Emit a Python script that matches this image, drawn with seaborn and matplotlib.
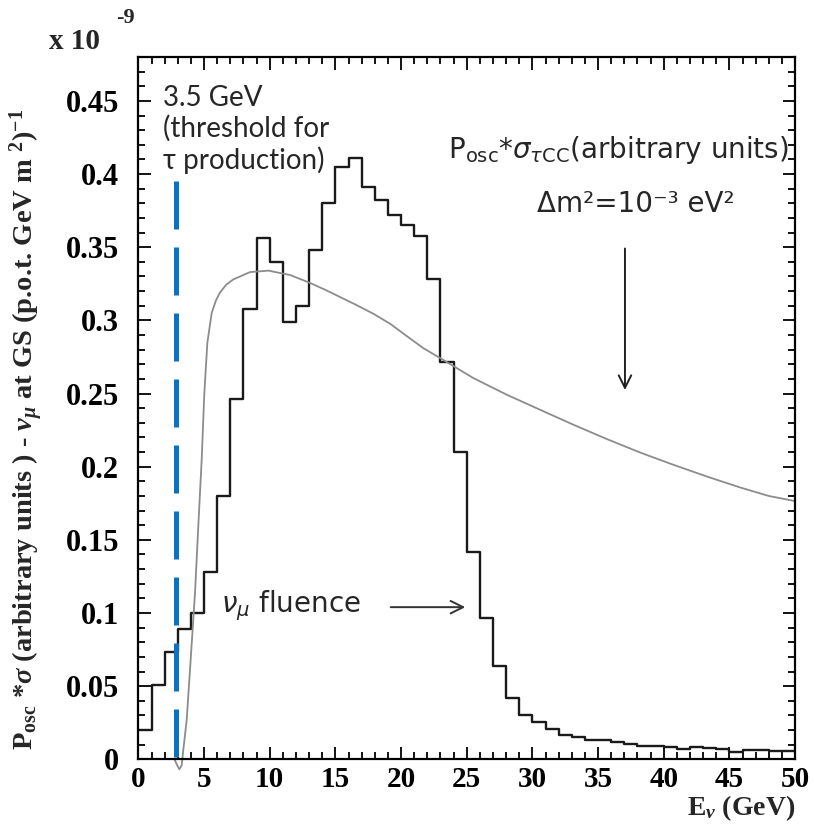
import numpy as np
import pandas as pd
import seaborn as sns
import matplotlib.pyplot as plt
from matplotlib.ticker import MultipleLocator, FixedLocator, FixedFormatter

# ---------------- data ----------------
energy_bin_edges = list(range(0, 51))
numu_fluence = [0.020, 0.051, 0.0736, 0.089, 0.100, 0.128, 0.180, 0.246, 0.308, 0.356,
                0.340, 0.299, 0.310, 0.348, 0.380, 0.405, 0.411, 0.391, 0.382, 0.372,
                0.365, 0.358, 0.3285, 0.2715, 0.210, 0.142, 0.0965, 0.064, 0.0417, 0.030,
                0.0253, 0.0205, 0.0166, 0.0155, 0.0132, 0.0132, 0.0116, 0.0103, 0.0091, 0.0091,
                0.0082, 0.0068, 0.0082, 0.0075, 0.0068, 0.0052, 0.0064, 0.0064, 0.0060, 0.0060]
curve_energy = [2.75, 2.95, 3.12, 3.3, 3.42, 3.68, 3.98, 4.31, 4.56, 4.82, 5.02, 5.25,
                5.58, 5.9, 6.21, 6.7, 7.23, 8.5, 9.9, 11.55, 13.07, 14.2, 15.35, 16.6,
                17.9, 19.2, 20.4, 21.7, 22.97, 25.5, 28.05, 30.59, 33.12, 35.67, 38.2,
                40.74, 43.28, 45.82, 48.0, 50.0]
curve_posc_sigma = [0.0, -0.004, -0.0068, -0.004, 0.0064, 0.027, 0.068, 0.1135, 0.159,
                    0.2047, 0.250, 0.2845, 0.305, 0.3135, 0.319, 0.3245, 0.328, 0.333,
                    0.334, 0.331, 0.3256, 0.321, 0.316, 0.3105, 0.3045, 0.2975, 0.2895,
                    0.281, 0.2743, 0.2606, 0.2492, 0.2389, 0.2287, 0.2189, 0.2097,
                    0.2013, 0.1933, 0.1858, 0.1800, 0.1765]
x_ticks = [0, 5, 10, 15, 20, 25, 30, 35, 40, 45, 50]
x_tick_labels = ["0", "5", "10", "15", "20", "25", "30", "35", "40", "45", "50"]
y_ticks = [0, 0.05, 0.1, 0.15, 0.2, 0.25, 0.3, 0.35, 0.4, 0.45]
y_tick_labels = ["0", "0.05", "0.1", "0.15", "0.2", "0.25", "0.3", "0.35", "0.4", "0.45"]
threshold_energy = 2.9
threshold_top = 0.395

# ---------------- style ----------------
sns.set_style("ticks")
plt.rcParams['font.family'] = ['Liberation Serif', 'DejaVu Serif']
plt.rcParams['mathtext.fontset'] = 'custom'
plt.rcParams['mathtext.rm'] = 'Liberation Serif:bold'
plt.rcParams['mathtext.it'] = 'Liberation Serif:italic:bold'
plt.rcParams['mathtext.bf'] = 'Liberation Serif:bold'

fig = plt.figure(figsize=(8.14, 8.25), dpi=100)
ax = fig.add_axes([0.1700, 0.0796, 0.8067, 0.8513])

centers = [e + 0.5 for e in energy_bin_edges[:-1]]
df = pd.DataFrame({"E": centers, "w": numu_fluence})
sns.histplot(data=df, x="E", weights="w", bins=energy_bin_edges, element="step",
             fill=False, color="#1a1a1a", linewidth=1.7, ax=ax)

sns.lineplot(x=curve_energy, y=curve_posc_sigma, color="#8c8c8c", linewidth=1.3,
             ax=ax, clip_on=False)

ax.plot([threshold_energy, threshold_energy], [threshold_top, 0], color="#0A72C2",
        linewidth=3.6, dashes=(9.6, 3.6), solid_capstyle="butt", dash_capstyle="butt",
        clip_on=False)

ax.set_xlim(0, 50)
ax.set_ylim(0, 0.48)
ax.set_xlabel("")
ax.set_ylabel("")

ax.xaxis.set_major_locator(FixedLocator(x_ticks))
ax.xaxis.set_major_formatter(FixedFormatter(x_tick_labels))
ax.xaxis.set_minor_locator(MultipleLocator(1))
ax.yaxis.set_major_locator(FixedLocator(y_ticks))
ax.yaxis.set_major_formatter(FixedFormatter(y_tick_labels))
ax.yaxis.set_minor_locator(MultipleLocator(0.01))
ax.tick_params(which="both", direction="in", top=True, right=True, width=1.3, colors="black")
ax.tick_params(which="major", length=9)
ax.tick_params(which="minor", length=5)
ax.tick_params(axis="y", which="major", pad=14, labelsize=22)
ax.tick_params(axis="x", which="major", pad=5, labelsize=21)
for lab in ax.get_xticklabels() + ax.get_yticklabels():
    lab.set_fontweight("bold")
for s in ax.spines.values():
    s.set_visible(True)
    s.set_linewidth(1.6)
    s.set_color("black")

# axis texts
fig.text(0.060, 0.950, "x 10", fontsize=21, fontweight="bold", ha="left", va="center")
fig.text(0.143, 0.978, "-9", fontsize=16, fontweight="bold", ha="left", va="center")
fig.text(0.977, 0.003, r"E$_{\nu}$ (GeV)", fontsize=20, fontweight="bold",
         ha="right", va="bottom")
fig.text(0.033, 0.479,
         r"P$_{\rm osc}$ *$\sigma$ (arbitrary units ) - $\nu_{\mu}$ at GS (p.o.t. GeV m $^{2}$)$^{-1}$",
         rotation=90, fontsize=20.5, fontweight="bold", ha="center", va="center")

# annotations
sans = ["Lato", "DejaVu Sans"]
ax.text(1.87, 0.461, "3.5 GeV\n(threshold for\n\u03c4 production)",
        family=sans, fontsize=20, fontweight="normal", ha="left", va="top", linespacing=1.2)
ax.text(0.990, 0.868, r"P$_{\mathrm{osc}}$*$\sigma_{\tau\mathrm{CC}}$(arbitrary units)",
        transform=ax.transAxes, family=["DejaVu Sans"], math_fontfamily="dejavusans",
        fontsize=20, fontweight="normal", ha="right", va="center")
ax.text(0.757, 0.790, "\u0394m\u00b2=10\u207b\u00b3 eV\u00b2", transform=ax.transAxes,
        family=["DejaVu Sans"], fontsize=20, fontweight="normal", ha="center", va="center")
ax.annotate("", xy=(37.05, 0.2505), xytext=(37.05, 0.351),
            arrowprops=dict(arrowstyle="->,head_length=0.9,head_width=0.45", color="#222222", lw=1.4))
ax.text(6.3, 0.105, r"$\nu_{\mu}$ fluence", family=["DejaVu Sans"],
        math_fontfamily="dejavusans", fontsize=20, fontweight="normal", ha="left", va="center")
ax.annotate("", xy=(25.1, 0.104), xytext=(19.0, 0.104),
            arrowprops=dict(arrowstyle="->,head_length=0.9,head_width=0.45", color="#333333", lw=1.4))

fig.savefig("out.png", dpi=100)
